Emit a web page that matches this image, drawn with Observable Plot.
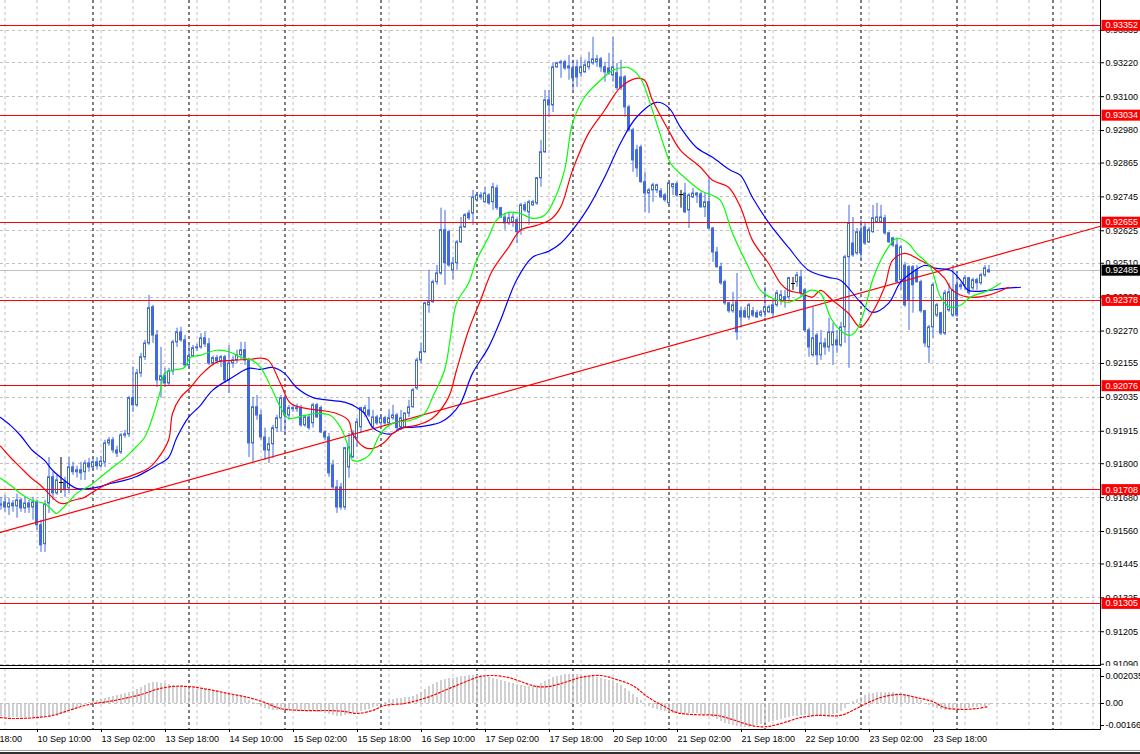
<!DOCTYPE html>
<html><head><meta charset="utf-8">
<script src="https://cdn.jsdelivr.net/npm/d3@7"></script>
<script src="https://cdn.jsdelivr.net/npm/@observablehq/plot@0.6"></script>
<style>
body{margin:0;background:#fff;}
#chart{width:1140px;height:754px;position:relative;overflow:hidden;background:#fff;}
#chart svg{display:block;}
#edge{height:4px;border-top:1px solid #a0a0a0;border-bottom:2px solid #303030;box-sizing:border-box;}
</style></head>
<body><div id="chart"></div>
<script>
// ---- hourly bars (index 0 = 10 Sep 01:00) ----
const open = [0.91652,0.91663,0.91645,0.91659,0.91649,0.91670,0.91642,0.91659,0.91645,0.91663,
0.91582,0.91515,0.91659,0.91752,0.91695,0.91734,0.91734,0.91713,0.91787,0.91770,
0.91777,0.91770,0.91801,0.91787,0.91805,0.91791,0.91805,0.91872,0.91883,0.91847,
0.91840,0.91900,0.91904,0.92032,0.92007,0.92120,0.92177,0.92226,0.92354,0.92254,
0.92095,0.92110,0.92084,0.92127,0.92230,0.92265,0.92237,0.92148,0.92181,0.92209,
0.92212,0.92244,0.92223,0.92155,0.92174,0.92162,0.92177,0.92095,0.92155,0.92166,
0.92184,0.92202,0.92166,0.91872,0.92000,0.91971,0.91893,0.91847,0.91869,0.91926,
0.91961,0.92032,0.91971,0.91997,0.91993,0.91997,0.91936,0.91964,0.91943,0.92007,
0.91997,0.91911,0.91893,0.91794,0.91716,0.91716,0.91645,0.91787,0.91822,0.91890,
0.91929,0.91978,0.91989,0.91929,0.91964,0.91943,0.91961,0.91943,0.91961,0.91971,
0.91929,0.91929,0.91978,0.92000,0.92067,0.92166,0.92195,0.92361,0.92372,0.92443,
0.92474,0.92627,0.92620,0.92485,0.92510,0.92584,0.92637,0.92686,0.92686,0.92733,
0.92750,0.92726,0.92750,0.92726,0.92775,0.92705,0.92672,0.92651,0.92655,0.92662,
0.92627,0.92715,0.92690,0.92715,0.92722,0.92811,0.92903,0.93087,0.93069,0.93204,
0.93218,0.93222,0.93200,0.93200,0.93204,0.93183,0.93186,0.93204,0.93218,0.93222,
0.93232,0.93204,0.93200,0.93175,0.93183,0.93168,0.93168,0.93062,0.92981,0.92910,
0.92920,0.92797,0.92757,0.92768,0.92768,0.92765,0.92750,0.92722,0.92779,0.92790,
0.92754,0.92757,0.92697,0.92743,0.92750,0.92754,0.92708,0.92726,0.92633,0.92548,
0.92496,0.92443,0.92368,0.92340,0.92372,0.92340,0.92340,0.92318,0.92340,0.92333,
0.92325,0.92336,0.92336,0.92361,0.92361,0.92379,0.92390,0.92390,0.92439,0.92443,
0.92460,0.92414,0.92272,0.92184,0.92254,0.92184,0.92226,0.92212,0.92219,0.92237,
0.92219,0.92283,0.92531,0.92580,0.92545,0.92620,0.92637,0.92584,0.92620,0.92655,
0.92655,0.92669,0.92616,0.92598,0.92573,0.92450,0.92502,0.92496,0.92496,0.92485,
0.92443,0.92340,0.92212,0.92283,0.92325,0.92333,0.92261,0.92343,0.92325,0.92432,
0.92425,0.92432,0.92457,0.92421,0.92450,0.92439,0.92467,0.92478];
const high = [0.91681,0.91688,0.91677,0.91670,0.91692,0.91677,0.91681,0.91670,0.91681,0.91670,
0.91600,0.91670,0.91822,0.91770,0.91759,0.91822,0.91752,0.91822,0.91805,0.91791,
0.91805,0.91812,0.91819,0.91819,0.91822,0.91826,0.91883,0.91893,0.91893,0.91862,
0.91907,0.91918,0.92039,0.92141,0.92134,0.92191,0.92237,0.92396,0.92361,0.92272,
0.92212,0.92138,0.92138,0.92237,0.92280,0.92283,0.92254,0.92219,0.92219,0.92223,
0.92261,0.92265,0.92244,0.92181,0.92184,0.92184,0.92184,0.92219,0.92181,0.92202,
0.92230,0.92230,0.92174,0.92035,0.92042,0.91989,0.91926,0.91893,0.91936,0.91971,
0.92042,0.92042,0.92007,0.92007,0.92011,0.92007,0.91971,0.91971,0.92014,0.92014,
0.92004,0.91918,0.91907,0.91812,0.91741,0.91730,0.91858,0.91907,0.91918,0.91961,
0.92000,0.92007,0.92035,0.91989,0.91971,0.91971,0.91968,0.91989,0.92007,0.91978,
0.91989,0.91978,0.92025,0.92067,0.92174,0.92226,0.92372,0.92485,0.92450,0.92502,
0.92705,0.92697,0.92627,0.92531,0.92591,0.92672,0.92686,0.92697,0.92768,0.92761,
0.92761,0.92779,0.92757,0.92793,0.92786,0.92708,0.92686,0.92690,0.92686,0.92669,
0.92722,0.92726,0.92733,0.92733,0.92814,0.92945,0.93122,0.93122,0.93218,0.93222,
0.93229,0.93229,0.93246,0.93229,0.93229,0.93239,0.93229,0.93257,0.93310,0.93246,
0.93239,0.93222,0.93253,0.93310,0.93218,0.93229,0.93175,0.93069,0.92988,0.92928,
0.92928,0.92832,0.92775,0.92793,0.92790,0.92775,0.92757,0.92793,0.92793,0.92797,
0.92768,0.92793,0.92757,0.92775,0.92761,0.92761,0.92757,0.92814,0.92637,0.92566,
0.92510,0.92450,0.92372,0.92407,0.92474,0.92354,0.92354,0.92368,0.92354,0.92343,
0.92343,0.92425,0.92361,0.92386,0.92414,0.92414,0.92414,0.92460,0.92460,0.92478,
0.92485,0.92421,0.92280,0.92354,0.92261,0.92272,0.92244,0.92315,0.92297,0.92272,
0.92301,0.92538,0.92715,0.92672,0.92633,0.92662,0.92655,0.92637,0.92715,0.92722,
0.92715,0.92680,0.92620,0.92602,0.92598,0.92573,0.92513,0.92502,0.92502,0.92502,
0.92450,0.92343,0.92290,0.92439,0.92368,0.92336,0.92414,0.92439,0.92502,0.92478,
0.92443,0.92467,0.92460,0.92457,0.92457,0.92474,0.92502,0.92502];
const low = [0.91635,0.91628,0.91617,0.91628,0.91607,0.91628,0.91624,0.91624,0.91600,0.91564,
0.91486,0.91486,0.91624,0.91670,0.91688,0.91695,0.91681,0.91695,0.91759,0.91749,
0.91741,0.91741,0.91770,0.91777,0.91777,0.91784,0.91787,0.91862,0.91836,0.91822,
0.91833,0.91890,0.91893,0.91982,0.92000,0.92106,0.92166,0.92219,0.92226,0.92070,
0.92032,0.92070,0.92077,0.92113,0.92212,0.92230,0.92141,0.92138,0.92177,0.92198,
0.92205,0.92212,0.92148,0.92148,0.92155,0.92141,0.92084,0.92049,0.92138,0.92155,
0.92166,0.92148,0.91822,0.91805,0.91954,0.91883,0.91812,0.91801,0.91819,0.91911,
0.91911,0.91907,0.91954,0.91982,0.91982,0.91929,0.91929,0.91918,0.91926,0.91961,
0.91907,0.91883,0.91752,0.91706,0.91624,0.91635,0.91635,0.91749,0.91819,0.91858,
0.91907,0.91964,0.91964,0.91926,0.91936,0.91929,0.91936,0.91940,0.91954,0.91918,
0.91918,0.91926,0.91964,0.91997,0.92060,0.92155,0.92191,0.92333,0.92368,0.92432,
0.92467,0.92432,0.92496,0.92450,0.92485,0.92580,0.92633,0.92662,0.92644,0.92726,
0.92733,0.92722,0.92715,0.92697,0.92697,0.92669,0.92627,0.92644,0.92637,0.92580,
0.92609,0.92690,0.92644,0.92712,0.92715,0.92779,0.92899,0.93027,0.93044,0.93200,
0.93165,0.93193,0.93158,0.93122,0.93133,0.93168,0.93183,0.93193,0.93211,0.93204,
0.93186,0.93151,0.93175,0.93151,0.93122,0.93122,0.93027,0.92974,0.92832,0.92814,
0.92793,0.92690,0.92686,0.92726,0.92757,0.92740,0.92726,0.92715,0.92750,0.92743,
0.92705,0.92686,0.92633,0.92740,0.92722,0.92705,0.92672,0.92627,0.92513,0.92492,
0.92432,0.92361,0.92333,0.92333,0.92237,0.92280,0.92315,0.92308,0.92318,0.92315,
0.92318,0.92318,0.92333,0.92318,0.92354,0.92361,0.92351,0.92379,0.92414,0.92425,
0.92390,0.92265,0.92177,0.92177,0.92148,0.92166,0.92184,0.92195,0.92148,0.92191,
0.92212,0.92226,0.92138,0.92531,0.92538,0.92520,0.92573,0.92580,0.92616,0.92651,
0.92651,0.92609,0.92580,0.92566,0.92439,0.92414,0.92354,0.92272,0.92333,0.92439,
0.92333,0.92212,0.92155,0.92244,0.92318,0.92254,0.92254,0.92336,0.92318,0.92318,
0.92414,0.92414,0.92397,0.92414,0.92414,0.92432,0.92460,0.92474];
const close = [0.91656,0.91645,0.91659,0.91649,0.91670,0.91642,0.91659,0.91645,0.91663,0.91582,
0.91511,0.91656,0.91752,0.91695,0.91741,0.91734,0.91706,0.91787,0.91770,0.91777,
0.91766,0.91801,0.91787,0.91805,0.91791,0.91808,0.91872,0.91883,0.91847,0.91836,
0.91900,0.91904,0.92032,0.92007,0.92120,0.92177,0.92226,0.92351,0.92254,0.92095,
0.92110,0.92084,0.92127,0.92230,0.92265,0.92237,0.92148,0.92181,0.92209,0.92212,
0.92244,0.92223,0.92155,0.92174,0.92162,0.92177,0.92095,0.92155,0.92166,0.92184,
0.92202,0.92166,0.91872,0.92000,0.91971,0.91893,0.91847,0.91869,0.91926,0.91961,
0.92032,0.91971,0.91997,0.91993,0.91997,0.91936,0.91964,0.91926,0.92007,0.91964,
0.91911,0.91893,0.91766,0.91716,0.91645,0.91645,0.91855,0.91858,0.91907,0.91947,
0.91997,0.91997,0.91971,0.91964,0.91943,0.91961,0.91943,0.91961,0.91971,0.91926,
0.91961,0.91978,0.92000,0.92060,0.92166,0.92195,0.92368,0.92372,0.92443,0.92474,
0.92627,0.92510,0.92502,0.92510,0.92584,0.92637,0.92680,0.92669,0.92743,0.92750,
0.92743,0.92757,0.92722,0.92779,0.92705,0.92672,0.92651,0.92669,0.92672,0.92620,
0.92715,0.92697,0.92726,0.92726,0.92811,0.92903,0.93087,0.93069,0.93204,0.93218,
0.93222,0.93200,0.93207,0.93165,0.93168,0.93204,0.93211,0.93222,0.93232,0.93232,
0.93204,0.93186,0.93183,0.93204,0.93130,0.93130,0.93062,0.92981,0.92874,0.92846,
0.92797,0.92757,0.92768,0.92786,0.92786,0.92743,0.92733,0.92793,0.92790,0.92750,
0.92754,0.92690,0.92750,0.92757,0.92757,0.92708,0.92726,0.92633,0.92548,0.92496,
0.92439,0.92368,0.92340,0.92361,0.92265,0.92318,0.92318,0.92361,0.92325,0.92318,
0.92336,0.92354,0.92354,0.92333,0.92404,0.92397,0.92379,0.92457,0.92439,0.92467,
0.92404,0.92272,0.92212,0.92244,0.92184,0.92226,0.92212,0.92265,0.92265,0.92219,
0.92283,0.92531,0.92651,0.92538,0.92620,0.92545,0.92580,0.92627,0.92669,0.92672,
0.92672,0.92616,0.92584,0.92573,0.92443,0.92566,0.92361,0.92379,0.92432,0.92443,
0.92340,0.92226,0.92283,0.92432,0.92361,0.92261,0.92404,0.92407,0.92414,0.92325,
0.92432,0.92457,0.92404,0.92450,0.92439,0.92467,0.92492,0.92485];

// ---- Alligator lines (bar position as drawn, price) ----
const jawBar = [0,2.5,5,8,11,13,16,19,24,27.5,31,34,37,39,42,44,47,50,53,58,62,65,68,71,74,78,82,86,89,91,93,96,98,100,103,107,110,112.5,115,118,122,125,129,133,137,140,143,147,151,155,159,164,167,170,174,178,182.5,185,188,192,197,202,207,210,215,218,222,225,228,231,234,237.5,240,242,247,251,255];
const jawPrice = [0.91964,0.91936,0.91900,0.91847,0.91812,0.91777,0.91741,0.91713,0.91716,0.91730,0.91741,0.91755,0.91777,0.91794,0.91822,0.91890,0.91964,0.92007,0.92060,0.92106,0.92138,0.92134,0.92141,0.92120,0.92070,0.92035,0.92025,0.92018,0.92000,0.91978,0.91929,0.91907,0.91907,0.91926,0.91929,0.91936,0.91947,0.91971,0.92014,0.92120,0.92212,0.92308,0.92450,0.92531,0.92552,0.92580,0.92627,0.92708,0.92814,0.92935,0.93027,0.93080,0.93062,0.92991,0.92920,0.92885,0.92839,0.92821,0.92743,0.92655,0.92566,0.92485,0.92460,0.92450,0.92372,0.92336,0.92368,0.92443,0.92478,0.92502,0.92492,0.92485,0.92450,0.92414,0.92414,0.92421,0.92425];
const teethBar = [0,2.5,5,7.5,10,12.5,14.5,16,18,21,23,26,29,33,37,39,42,43,45,47.5,50,54,58,62.5,65,67,70,72.5,76,80,84,87,88,91,93,96,98,101,104,108,112,114,117,120,123,127,130,134,137.5,140,143,147,151,155,159,161,163,167,170,175,178,182,185,188,192,195,197,200,203,205,208,212,215,217.5,221,223,226,230,233,236,238,242,247,252];
const teethPrice = [0.91862,0.91822,0.91787,0.91752,0.91724,0.91688,0.91663,0.91659,0.91670,0.91681,0.91699,0.91724,0.91741,0.91759,0.91784,0.91812,0.91883,0.91978,0.92035,0.92070,0.92113,0.92159,0.92166,0.92170,0.92174,0.92166,0.92084,0.92014,0.91997,0.91989,0.91978,0.91954,0.91907,0.91858,0.91854,0.91876,0.91907,0.91929,0.91936,0.91961,0.92035,0.92131,0.92272,0.92379,0.92485,0.92566,0.92627,0.92644,0.92665,0.92708,0.92839,0.92970,0.93051,0.93133,0.93165,0.93158,0.93087,0.92981,0.92910,0.92850,0.92804,0.92779,0.92708,0.92591,0.92510,0.92439,0.92414,0.92404,0.92390,0.92414,0.92379,0.92333,0.92283,0.92325,0.92425,0.92520,0.92545,0.92520,0.92496,0.92457,0.92414,0.92390,0.92397,0.92425];
const lipsBar = [0,2.5,5,8,11,12.5,14,15,17,19,22.5,25,28,31,33,36,38,40,41,43,46,47.5,50,54,57.5,60,63,65,68,70,72,76,79,82.5,85,87,88,90,92.5,95,98,102.5,106,108,111,112.5,114,117,119,122,124,127,130,133,136,138,141,143,146,150,153,156,157.5,160,163,166,167.5,171,175,178,180,183,187,190,193,197,200,202.5,205,207.5,210,212.5,214,216,218,221,224,227,229,232.5,235,237.5,240,242.5,247,250];
const lipsPrice = [0.91749,0.91724,0.91695,0.91670,0.91659,0.91642,0.91624,0.91635,0.91663,0.91695,0.91724,0.91752,0.91787,0.91819,0.91847,0.91893,0.91964,0.92060,0.92120,0.92131,0.92141,0.92177,0.92184,0.92202,0.92195,0.92177,0.92166,0.92141,0.92060,0.92000,0.91961,0.91971,0.91978,0.91971,0.91929,0.91858,0.91812,0.91812,0.91836,0.91907,0.91943,0.91954,0.91978,0.92035,0.92131,0.92248,0.92368,0.92439,0.92520,0.92602,0.92662,0.92690,0.92686,0.92669,0.92680,0.92722,0.92839,0.93005,0.93098,0.93158,0.93193,0.93204,0.93200,0.93165,0.93051,0.92920,0.92864,0.92814,0.92768,0.92750,0.92733,0.92616,0.92496,0.92414,0.92386,0.92372,0.92390,0.92414,0.92404,0.92318,0.92272,0.92255,0.92272,0.92343,0.92450,0.92545,0.92598,0.92580,0.92545,0.92496,0.92390,0.92354,0.92361,0.92390,0.92414,0.92439];

// ---- MACD ----
const macdHist = [-0.00098,-0.00098,-0.00106,-0.00106,-0.00106,-0.00106,-0.00106,-0.00106,-0.00106,-0.00106,
-0.00113,-0.00106,-0.00098,-0.00098,-0.00098,-0.00083,-0.00075,-0.00060,-0.00053,-0.00038,
-0.00023,-0.00008,0.00008,0.00015,0.00023,0.00030,0.00038,0.00045,0.00053,0.00060,
0.00068,0.00075,0.00083,0.00090,0.00106,0.00121,0.00136,0.00151,0.00158,0.00158,
0.00151,0.00151,0.00143,0.00136,0.00128,0.00121,0.00121,0.00113,0.00113,0.00106,
0.00106,0.00106,0.00098,0.00098,0.00090,0.00083,0.00075,0.00068,0.00068,0.00060,
0.00053,0.00045,0.00023,0.00008,-0.00008,-0.00023,-0.00038,-0.00045,-0.00053,-0.00053,
-0.00053,-0.00053,-0.00053,-0.00053,-0.00053,-0.00060,-0.00060,-0.00060,-0.00060,-0.00068,
-0.00068,-0.00075,-0.00083,-0.00090,-0.00098,-0.00098,-0.00090,-0.00083,-0.00075,-0.00068,
-0.00060,-0.00053,-0.00045,-0.00030,-0.00023,-0.00008,0.00008,0.00023,0.00030,0.00038,
0.00038,0.00045,0.00045,0.00053,0.00068,0.00083,0.00106,0.00128,0.00143,0.00158,
0.00173,0.00181,0.00189,0.00189,0.00196,0.00204,0.00204,0.00211,0.00211,0.00211,
0.00211,0.00204,0.00196,0.00189,0.00181,0.00173,0.00166,0.00158,0.00151,0.00143,
0.00136,0.00128,0.00128,0.00128,0.00136,0.00151,0.00166,0.00181,0.00196,0.00204,
0.00211,0.00219,0.00219,0.00219,0.00219,0.00211,0.00211,0.00204,0.00204,0.00196,
0.00189,0.00181,0.00173,0.00166,0.00151,0.00136,0.00113,0.00090,0.00068,0.00045,
0.00023,0,-0.00023,-0.00038,-0.00045,-0.00053,-0.00060,-0.00068,-0.00075,-0.00075,
-0.00075,-0.00075,-0.00075,-0.00075,-0.00075,-0.00083,-0.00083,-0.00090,-0.00106,-0.00121,
-0.00136,-0.00151,-0.00158,-0.00166,-0.00173,-0.00181,-0.00181,-0.00181,-0.00173,-0.00166,
-0.00158,-0.00151,-0.00143,-0.00136,-0.00128,-0.00121,-0.00113,-0.00106,-0.00098,-0.00098,
-0.00090,-0.00090,-0.00090,-0.00090,-0.00090,-0.00090,-0.00090,-0.00090,-0.00083,-0.00075,
-0.00060,-0.00038,-0.00008,0.00015,0.00030,0.00045,0.00060,0.00068,0.00075,0.00083,
0.00083,0.00083,0.00083,0.00083,0.00075,0.00075,0.00068,0.00060,0.00053,0.00038,
0.00023,0,-0.00015,-0.00030,-0.00038,-0.00045,-0.00053,-0.00053,-0.00053,-0.00045,
-0.00045,-0.00038,-0.00038,-0.00030,-0.00030,-0.00023,-0.00023,-0.00015];
const signalBar = [0,3,9,13,17,22,27,31,36,39,43,47,52,57,62,66,70,76,82,86,89,93,96,101,105,108,111,114,117,120,123,127,130,134,137,141,145,150,154,158,162,166,169,173,179,183,186,189,192,196,200,204,210,213,217,221,225,229,233,236,240,244,247];
const signalValue = [-0.00106,-0.00113,-0.00106,-0.00090,-0.00053,-0.00008,0.00015,0.00038,0.00075,0.00106,0.00128,0.00128,0.00106,0.00075,0.00045,0.00008,-0.00038,-0.00053,-0.00053,-0.00060,-0.00075,-0.00053,-0.00015,0.00000,0.00030,0.00060,0.00098,0.00136,0.00173,0.00204,0.00211,0.00196,0.00166,0.00128,0.00128,0.00158,0.00196,0.00211,0.00181,0.00136,0.00045,-0.00023,-0.00068,-0.00083,-0.00090,-0.00121,-0.00151,-0.00173,-0.00173,-0.00143,-0.00106,-0.00090,-0.00090,-0.00053,0.00008,0.00053,0.00068,0.00045,0.00015,-0.00030,-0.00045,-0.00038,-0.00023];

// ---- objects, ticks, labels ----
const levelPrice = [0.93352,0.93034,0.92655,0.92378,0.92076,0.91708,0.91305];
const lastPrice = 0.92485;
const trendBar = [0, 275];
const trendPrice = [0.91557, 0.92641];
const priceTick = [0.93335,0.93220,0.93100,0.92980,0.92865,0.92745,0.92625,0.92510,0.92390,0.92270,0.92155,0.92035,0.91915,0.91800,0.91680,0.91560,0.91445,0.91325,0.91205,0.91090];
const macdTick = [0.002035, 0, -0.00166];
const macdTickLabel = ["0.002035", "0.00", "-0.00166"];
const timeTickBar = [-7,9,25,41,57,73,89,105,121,137,153,169,185,201,217,233];
const timeTickLabel = ["9 Sep 18:00","10 Sep 10:00","13 Sep 02:00","13 Sep 18:00","14 Sep 10:00","15 Sep 02:00","15 Sep 18:00","16 Sep 10:00","17 Sep 02:00","17 Sep 18:00","20 Sep 10:00","21 Sep 02:00","21 Sep 18:00","22 Sep 10:00","23 Sep 02:00","23 Sep 18:00"];
const daySeparatorBar = [23,47,71,95,119,143,167,191,215,239,263];

// ---- build tables ----
const bars = open.map((o, i) => ({i, o, h: high[i], l: low[i], c: close[i]}));
const pairs = (xs, ys) => xs.map((b, j) => ({b, p: ys[j]}));
const jaw = pairs(jawBar, jawPrice), teeth = pairs(teethBar, teethPrice), lips = pairs(lipsBar, lipsPrice);
const trend = pairs(trendBar, trendPrice);
const macd = macdHist.map((v, i) => ({i, v}));
const signal = pairs(signalBar, signalValue);
const gridBars = d3.range(1, 276, 8);
const timeLabelOf = new Map(timeTickBar.map((b, j) => [b, timeTickLabel[j]]));
const macdLabelOf = new Map(macdTick.map((t, j) => [t, macdTickLabel[j]]));

const BLUE = "#4169e1";
const style = {fontFamily: "'Liberation Sans', Arial, sans-serif", fontSize: "9px", color: "black", background: "white"};
const xScale = {domain: [0, 275], axis: null};
const fmt5 = d3.format(".5f");
const crisp = {shapeRendering: "crispEdges"};

const main = Plot.plot({
  width: 1140, height: 666,
  marginTop: 0, marginRight: 40, marginBottom: 1, marginLeft: 0,
  style, x: xScale,
  y: {domain: [0.910855, 0.934405], axis: null},
  marks: [
    Plot.gridY(priceTick, {stroke: "#c0c0c0", strokeOpacity: 1, strokeDasharray: "3,3", ...crisp}),
    Plot.ruleX(gridBars, {stroke: "#c0c0c0", strokeOpacity: 1, strokeDasharray: "3,3", dx: 0.5}),
    Plot.ruleX(daySeparatorBar, {stroke: "black", strokeDasharray: "3,3", dx: 0.5}),
    Plot.ruleY([lastPrice], {stroke: "#c0c0c0", ...crisp}),
    Plot.ruleX(bars, {filter: d => d.o !== d.c, x: "i", y1: "l", y2: "h", stroke: BLUE, dx: 0.5}),
    Plot.ruleX(bars, {filter: d => d.o === d.c, x: "i", y1: "l", y2: "h", stroke: "black", dx: 0.5}),
    Plot.ruleY(bars, {filter: d => d.o === d.c, y: "o", x1: d => d.i - 0.5, x2: d => d.i + 0.5, stroke: "black", dx: 0.5, ...crisp}),
    Plot.rect(bars, {filter: d => d.c > d.o, x1: d => d.i - 0.25, x2: d => d.i + 0.25, y1: "o", y2: "c", fill: "white", stroke: BLUE, dx: 0.5}),
    Plot.rect(bars, {filter: d => d.c < d.o, x1: d => d.i - 0.25, x2: d => d.i + 0.25, y1: "o", y2: "c", fill: BLUE, stroke: BLUE, dx: 0.5}),
    Plot.ruleY(levelPrice, {stroke: "#ff0000", ...crisp}),
    Plot.line(trend, {x: "b", y: "p", stroke: "#ff0000", strokeWidth: 1.2}),
    Plot.line(jaw, {x: "b", y: "p", stroke: "#0000ff", strokeWidth: 1.2, curve: "catmull-rom"}),
    Plot.line(teeth, {x: "b", y: "p", stroke: "#ff0000", strokeWidth: 1.2, curve: "catmull-rom"}),
    Plot.line(lips, {x: "b", y: "p", stroke: "#00ff00", strokeWidth: 1.2, curve: "catmull-rom"}),
    Plot.axisY(priceTick, {anchor: "right", tickFormat: fmt5, tickSize: 3, tickPadding: 2}),
    Plot.text(levelPrice, {y: d => d, frameAnchor: "right", textAnchor: "start", dx: 5, text: d => fmt5(d), fill: "white"}),
    Plot.text([lastPrice], {y: d => d, frameAnchor: "right", textAnchor: "start", dx: 5, text: d => fmt5(d), fill: "white"}),
    Plot.frame({anchor: "right", ...crisp}),
    Plot.frame({anchor: "bottom", ...crisp})
  ]
});

const lower = Plot.plot({
  width: 1140, height: 84,
  marginTop: 2, marginRight: 40, marginBottom: 21, marginLeft: 0,
  style, x: xScale,
  y: {domain: [-0.00196, 0.002638], axis: null},
  marks: [
    Plot.ruleX(gridBars, {stroke: "#c0c0c0", strokeOpacity: 1, strokeDasharray: "3,3", dx: 0.5}),
    Plot.ruleX(daySeparatorBar, {stroke: "black", strokeDasharray: "3,3", dx: 0.5}),
    Plot.ruleY([0], {stroke: "#c0c0c0", strokeDasharray: "3,3", ...crisp}),
    Plot.ruleX(macd, {x: "i", y1: 0, y2: "v", stroke: "#c0c0c0", strokeWidth: 1.5, dx: 0.5}),
    Plot.line(signal, {x: "b", y: "p", stroke: "#ff0000", strokeWidth: 1.2, strokeDasharray: "2,2", curve: "catmull-rom"}),
    Plot.axisY(macdTick, {anchor: "right", tickFormat: d => macdLabelOf.get(d), tickSize: 3, tickPadding: 2}),
    Plot.axisX(timeTickBar, {anchor: "bottom", tickFormat: d => timeLabelOf.get(d), tickSize: 3, tickPadding: 3, textAnchor: "start", dx: 1}),
    Plot.frame({anchor: "top", ...crisp}),
    Plot.frame({anchor: "right", ...crisp}),
    Plot.frame({anchor: "bottom", ...crisp})
  ]
});

const root = document.getElementById("chart");
root.append(main, lower);
const edge = document.createElement("div"); edge.id = "edge"; root.append(edge);

// coloured boxes behind the price-line labels on the right axis
const boxColour = new Map(levelPrice.map(p => [fmt5(p), "#ff0000"]));
boxColour.set(fmt5(lastPrice), "#000000");
main.querySelectorAll("text").forEach(t => {
  const colour = boxColour.get(t.textContent);
  if (!colour) return;
  const b = t.getBBox();
  const r = document.createElementNS("http://www.w3.org/2000/svg", "rect");
  r.setAttribute("x", b.x - 4);
  r.setAttribute("y", b.y - 0.5);
  r.setAttribute("width", b.width + 12);
  r.setAttribute("height", b.height + 1);
  r.setAttribute("fill", colour);
  const tr = t.getAttribute("transform");
  if (tr) r.setAttribute("transform", tr);
  t.parentNode.insertBefore(r, t);
});
</script>
</body></html>
